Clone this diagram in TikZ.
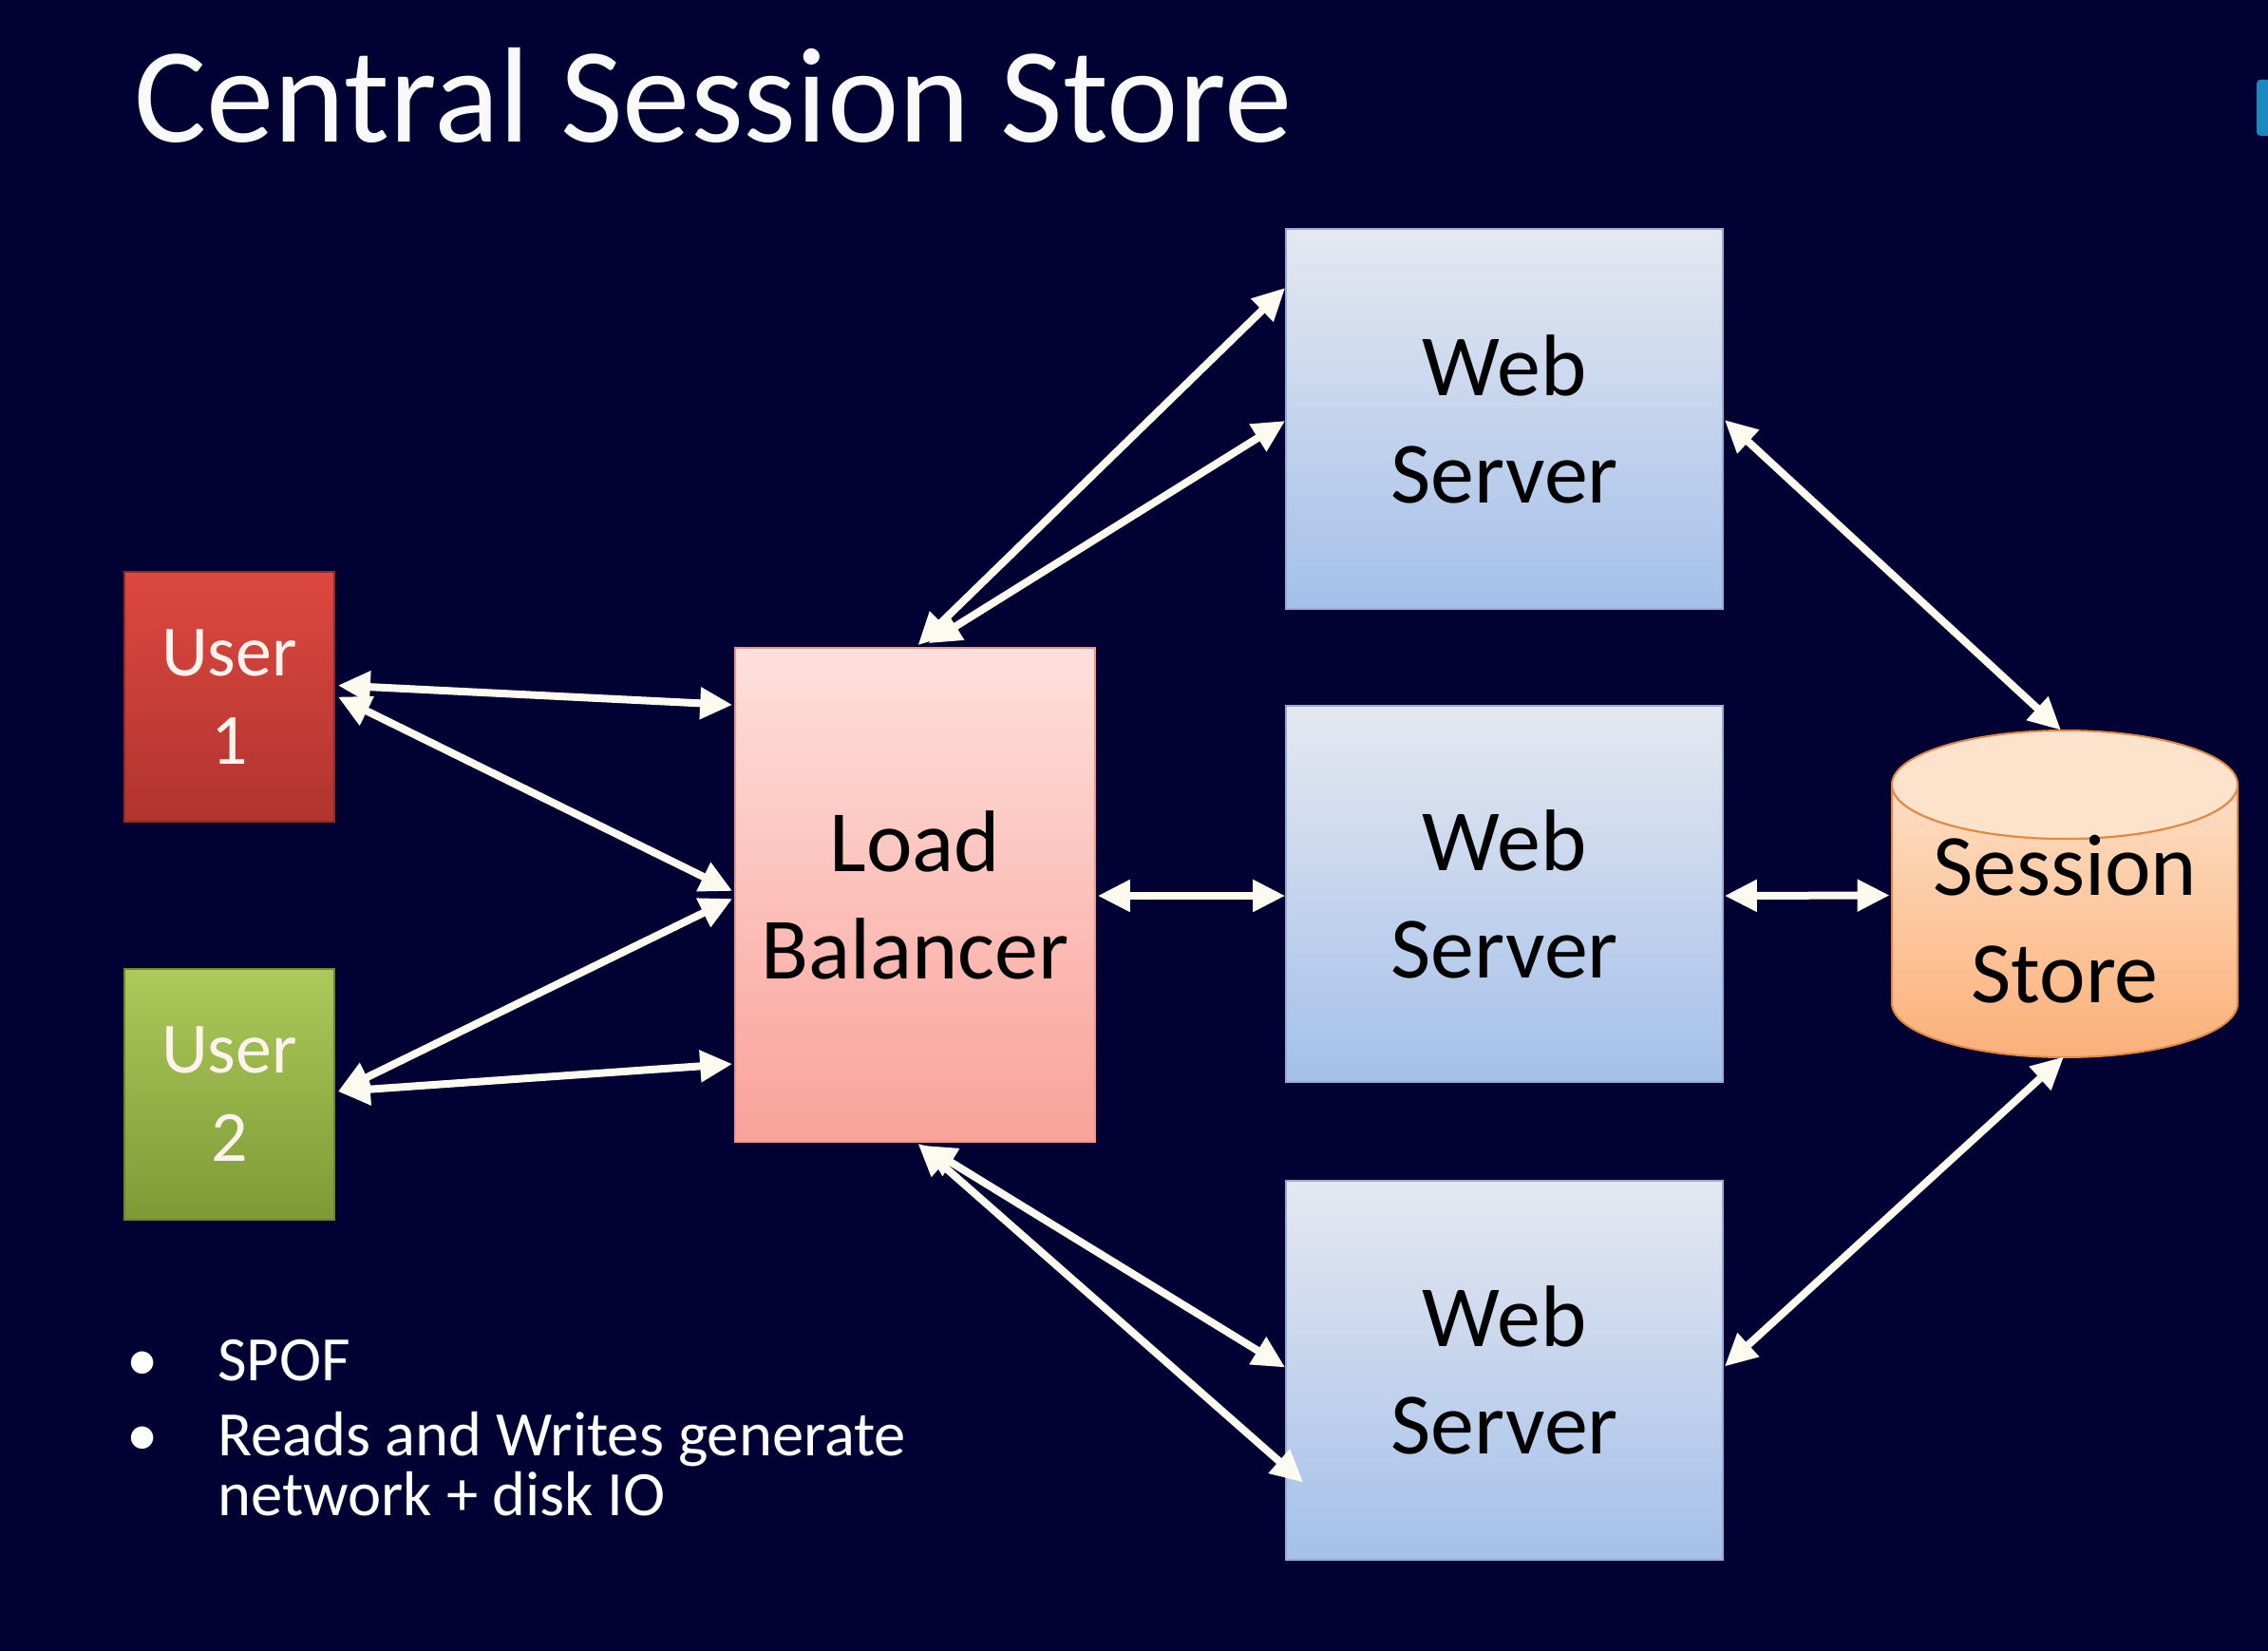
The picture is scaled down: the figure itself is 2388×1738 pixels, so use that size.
\documentclass[tikz,border=0pt]{standalone}
\usepackage{fontspec}
\setmainfont{Carlito}
\usetikzlibrary{arrows.meta,calc}
\definecolor{bgc}{RGB}{1,1,52}
\definecolor{arrowc}{RGB}{253,250,240}
\definecolor{redA}{RGB}{221,72,64}
\definecolor{redB}{RGB}{176,52,46}
\definecolor{redE}{RGB}{150,40,36}
\definecolor{grnA}{RGB}{172,201,90}
\definecolor{grnB}{RGB}{126,154,54}
\definecolor{grnE}{RGB}{110,135,45}
\definecolor{lbA}{RGB}{254,224,219}
\definecolor{lbB}{RGB}{249,162,154}
\definecolor{lbE}{RGB}{236,150,142}
\definecolor{wsA}{RGB}{229,232,240}
\definecolor{wsB}{RGB}{164,192,234}
\definecolor{wsE}{RGB}{150,172,210}
\definecolor{cylA}{RGB}{253,222,196}
\definecolor{cylB}{RGB}{251,176,120}
\definecolor{cylT}{RGB}{253,226,204}
\definecolor{cylE}{RGB}{226,136,66}
\definecolor{usertext}{RGB}{253,242,236}
\definecolor{bluemark}{RGB}{27,136,192}
\begin{document}
\begin{tikzpicture}[x=0.5pt,y=-0.5pt,
  base/.style={rectangle, inner sep=0pt, align=center},
  userbox/.style={base, minimum width=110.5pt, minimum height=131.5pt,
    text=usertext, font=\fontsize{38}{46.5}\selectfont, line width=0.8pt},
  lbbox/.style={base, minimum width=189.5pt, minimum height=260pt,
    top color=lbA, bottom color=lbB, draw=lbE, line width=0.8pt,
    font=\fontsize{46}{56.5}\selectfont},
  wsbox/.style={base, minimum width=230pt, minimum height=199pt,
    top color=wsA, bottom color=wsB, draw=wsE, line width=0.8pt,
    font=\fontsize{46}{56.5}\selectfont},
  storetext/.style={align=center, inner sep=0pt, font=\fontsize{46}{56.5}\selectfont},
  link/.style={draw=arrowc, line width=4pt,
    {Triangle[length=17pt,width=16pt]}-{Triangle[length=17pt,width=16pt]}},
  bodytext/.style={text=white, inner sep=0pt, font=\fontsize{33.3}{31.5}\selectfont}
]
\fill[bgc] (0,0) rectangle (2388,1738);
\useasboundingbox (0,0) rectangle (2388,1738);

% corner mark
\fill[bluemark, rounded corners=2pt] (2376,84) rectangle (2392,143);

% title
\node[anchor=base west, inner sep=0pt, text=white!95!gray,
  font=\fontsize{71.4}{85}\selectfont] (title) at (141,150) {Central Session Store};

% users
\node[userbox, top color=redA, bottom color=redB, draw=redE] (u1) at (241.5,733.5) {User\\1};
\node[userbox, top color=grnA, bottom color=grnB, draw=grnE, minimum height=132pt] (u2) at (241.5,1152) {User\\2};

% load balancer
\node[lbbox] (lb) at (963.5,942) {Load\\Balancer};

% web servers
\node[wsbox, minimum height=200pt] (ws1) at (1584,441) {Web\\Server};
\node[wsbox, minimum height=198pt] (ws2) at (1584,941) {Web\\Server};
\node[wsbox, minimum height=199.5pt] (ws3) at (1584,1442.5) {Web\\Server};

% session store cylinder
\path[top color=cylA, bottom color=cylB, draw=cylE, line width=1pt]
  (1992,826) -- (1992,1056)
  arc[start angle=180, end angle=0, x radius=182, y radius=57]
  -- (2356,826)
  arc[start angle=0, end angle=180, x radius=182, y radius=57] -- cycle;
\path[fill=cylT, draw=cylE, line width=1pt] (2174,826) ellipse[x radius=182, y radius=57];
\node[base, minimum width=182pt, minimum height=171.5pt,
  label={[storetext, yshift=-13.75pt]center:Session\\Store}] (ss) at (2174,940.5) {};

% connectors
\draw[link] ($(u1.east)+(3,-12)$) -- ($(lb.west)+(-2,-200)$);
\draw[link] ($(u1.east)+(3,0)$) -- ($(lb.west)+(-2,-4)$);
\draw[link] ($(u2.east)+(3,-3)$) -- ($(lb.west)+(-2,4)$);
\draw[link] ($(u2.east)+(3,-3)$) -- ($(lb.west)+(-2,178)$);
\draw[link] ($(lb.north)+(3,-2)$) -- ($(ws1.west)+(0,-138)$);
\draw[link] ($(lb.north)+(14,-4)$) -- ($(ws1.west)+(0,2)$);
\draw[link] ($(lb.east)+(2,1)$) -- ($(ws2.west)+(0,2)$);
\draw[link] ($(lb.south)+(9,3)$) -- ($(ws3.west)+(0,-3)$);
\draw[link] ($(lb.south)+(3,1)$) -- ($(ws3.west)+(19,118)$);
\draw[link] ($(ws1.east)+(1,1)$) -- ($(ss.north)+(-4,0)$);
\draw[link] ($(ws2.east)+(1,2)$) -- ($(ss.west)+(-2,2)$);
\draw[link] ($(ws3.east)+(1,-4)$) -- ($(ss.south)+(-1,0)$);

% bullet text
\node[bodytext, anchor=base] (b1) at (150,1453) {\textbullet};
\node[bodytext, anchor=base west] (t1) at (229,1453) {SPOF};
\node[bodytext, anchor=base] (b2) at (150,1532) {\textbullet};
\node[bodytext, anchor=base west, align=left] (t2) at (229,1595) {Reads and Writes generate\\network + disk IO};
\end{tikzpicture}
\end{document}
